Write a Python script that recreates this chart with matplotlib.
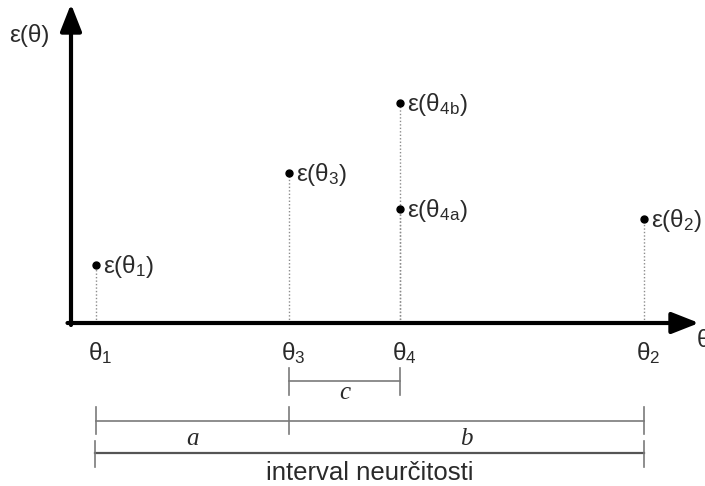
import matplotlib.pyplot as plt

plt.rcParams["font.family"] = ["Liberation Sans", "DejaVu Sans"]
plt.rcParams["mathtext.fontset"] = "custom"
plt.rcParams["mathtext.rm"] = "Liberation Sans"
plt.rcParams["mathtext.it"] = "Liberation Sans:italic"

# positions along the theta axis and the criterion values at those points
theta_names = ["1", "3", "4", "2"]
theta_pos = [25, 218, 329, 573]
point_x = [25, 218, 329, 329, 573]
point_eps = [58, 150, 114, 220, 104]
point_names = ["1", "3", "4a", "4b", "2"]

# interval brackets below the axis: (left theta, right theta, label)
brackets = [
    (218, 329, "c"),
    (25, 218, "a"),
    (218, 573, "b"),
]
interval_text = "interval neurčitosti"

TEXT = "#2a2a2a"
GRID = "#8c8c8c"
BRACKET = "#7a7a7a"


def main():
    fig = plt.figure(figsize=(7.05, 4.86), dpi=100)
    ax = fig.add_axes([0, 0, 1, 1])
    ax.set_xlim(-71, 634)
    ax.set_ylim(-163, 323)
    ax.axis("off")

    # axes with arrowheads
    head = "-|>,head_length=1.65,head_width=0.65"
    ax.annotate("", xy=(0, 319), xytext=(0, -2),
                arrowprops=dict(arrowstyle=head, lw=3, color="black",
                                mutation_scale=10, shrinkA=0, shrinkB=0))
    ax.annotate("", xy=(628, 0), xytext=(-3.5, 0),
                arrowprops=dict(arrowstyle=head, lw=3, color="black",
                                mutation_scale=10, shrinkA=0, shrinkB=0))
    ax.text(-62, 287, "ε(θ)", fontsize=17.5, color=TEXT, ha="left", va="center")
    ax.text(626, -18, "θ", fontsize=17.5, color=TEXT, ha="left", va="center")

    # dotted drop lines and points
    for x, e in zip(point_x, point_eps):
        ax.plot([x, x], [0, e], color=GRID, lw=1, ls=(0, (1, 1.5)), zorder=1)
    ax.plot(point_x, point_eps, "o", color="black", ms=5, zorder=3)
    for x, e, n in zip(point_x, point_eps, point_names):
        ax.text(x + 7, e - 2, f"ε(θ$_\\mathrm{{{n}}}$)", fontsize=17.5,
                color=TEXT, ha="left", va="center")

    for x, n in zip(theta_pos, theta_names):
        ax.text(x + 4, -30, f"θ$_\\mathrm{{{n}}}$", fontsize=17.5, color=TEXT,
                ha="center", va="center")

    # brackets
    c_left, c_right, c_lab = brackets[0]
    ax.plot([c_left, c_right], [-58, -58], color=BRACKET, lw=1.2)
    for x in (c_left, c_right):
        ax.plot([x, x], [-45, -72], color=BRACKET, lw=1.2)
    ax.text((c_left + c_right) / 2, -70, c_lab, fontsize=18, style="italic",
            family="Liberation Serif", color=TEXT, ha="center", va="center")

    a_left, a_right, a_lab = brackets[1]
    b_left, b_right, b_lab = brackets[2]
    ax.plot([a_left, b_right], [-98, -98], color=BRACKET, lw=1.2)
    for x in (a_left, a_right, b_right):
        ax.plot([x, x], [-84, -111], color=BRACKET, lw=1.2)
    ax.text((a_left + a_right) / 2, -116, a_lab, fontsize=18, style="italic",
            family="Liberation Serif", color=TEXT, ha="center", va="center")
    ax.text((b_left + b_right) / 2, -116, b_lab, fontsize=18, style="italic",
            family="Liberation Serif", color=TEXT, ha="center", va="center")

    ax.plot([a_left - 1, b_right], [-130, -130], color="#555555", lw=1.6)
    for x in (a_left - 1, b_right):
        ax.plot([x, x], [-118, -144], color=BRACKET, lw=1.2)
    ax.text((a_left + b_right) / 2, -150, interval_text, fontsize=18.5,
            color=TEXT, ha="center", va="center")

    fig.savefig("out.png", dpi=100)
    plt.close(fig)


if __name__ == "__main__":
    main()
